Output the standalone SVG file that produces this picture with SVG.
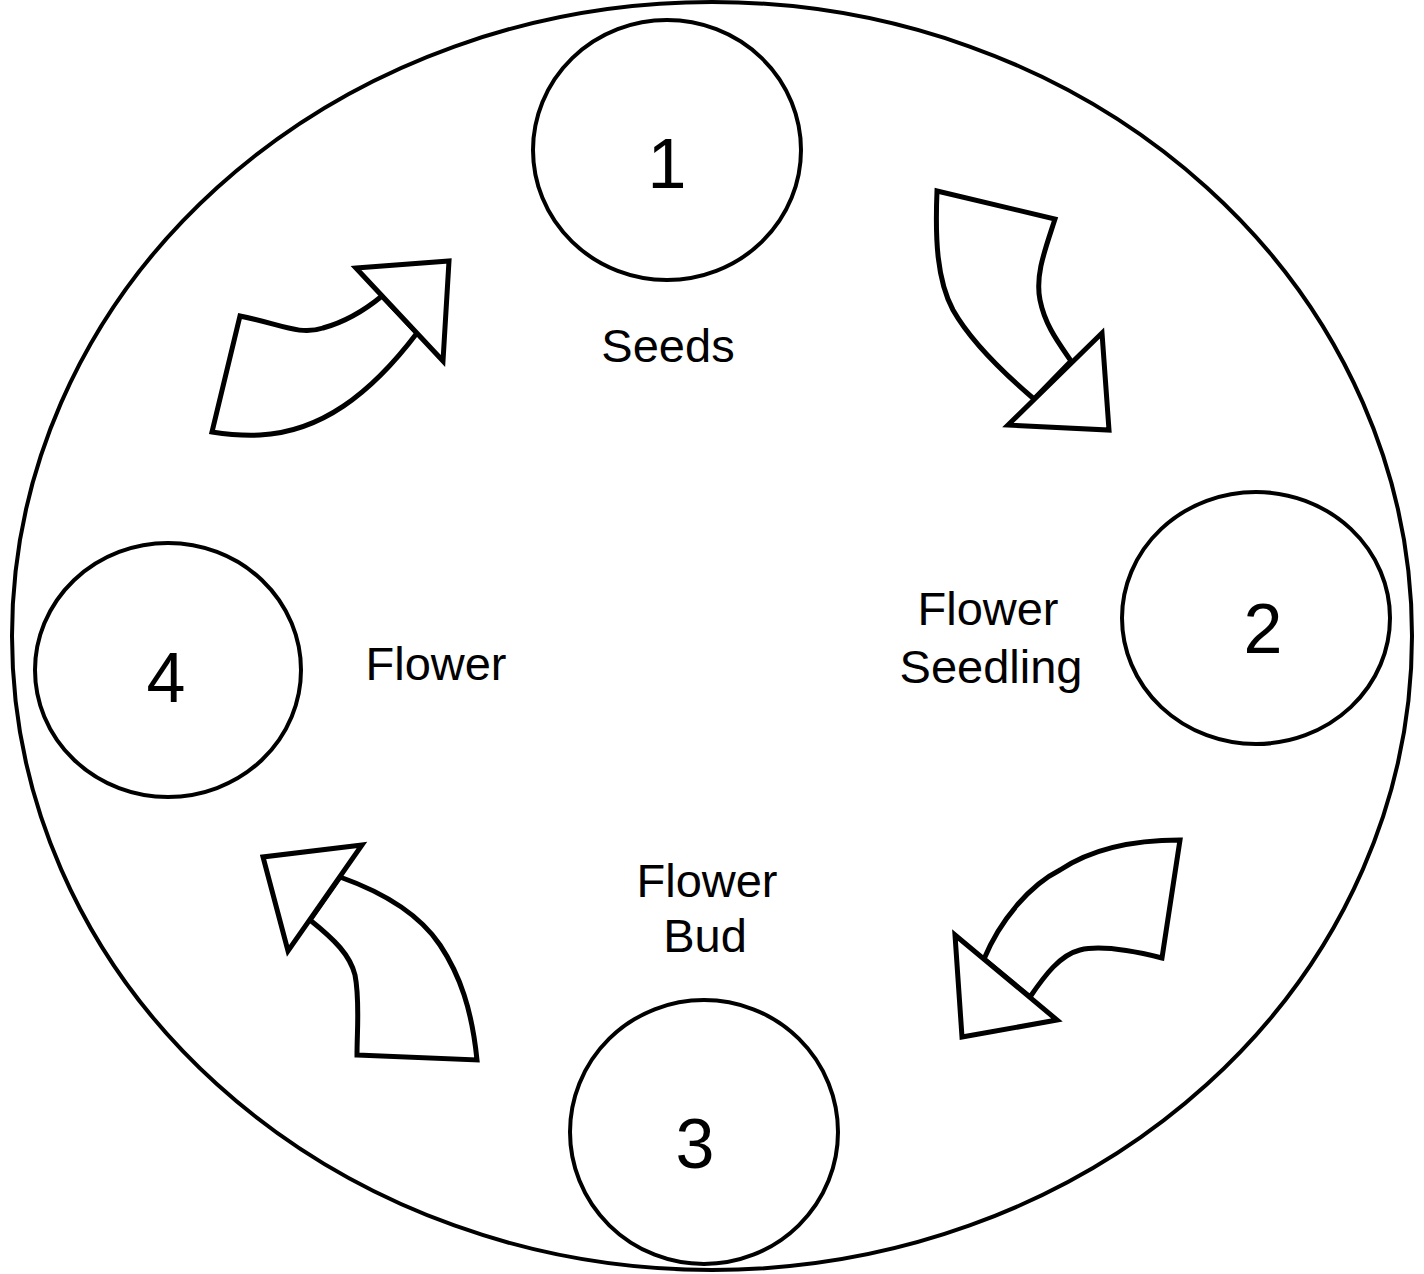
<svg xmlns="http://www.w3.org/2000/svg" width="1424" height="1274" viewBox="0 0 1424 1274">
<style>
.sh{fill:#fff;stroke:#000;stroke-width:4;stroke-linejoin:miter}
.ar{fill:#fff;stroke:#000;stroke-width:5;stroke-linejoin:miter}
.num{font-family:"Comic Sans MS","Liberation Sans",sans-serif;font-size:70px;text-anchor:middle;fill:#000}
.lbl{font-family:"Comic Sans MS","Liberation Sans",sans-serif;font-size:47px;text-anchor:middle;fill:#000}
</style>
<rect width="1424" height="1274" fill="#fff"/>
<ellipse class="sh" cx="712" cy="636" rx="700" ry="634"/>
<g id="node1">
<ellipse class="sh" cx="667" cy="150" rx="134" ry="130"/>
<text class="num" x="667" y="188">1</text>
<text class="lbl" x="668" y="362">Seeds</text>
</g>
<g id="node2">
<ellipse class="sh" cx="1256" cy="618" rx="134" ry="126"/>
<text class="num" x="1263" y="653">2</text>
<text class="lbl" x="988" y="625">Flower</text>
<text class="lbl" x="991" y="683">Seedling</text>
</g>
<g id="node3">
<ellipse class="sh" cx="704" cy="1132" rx="134" ry="132"/>
<text class="num" x="695" y="1168">3</text>
<text class="lbl" x="707" y="897">Flower</text>
<text class="lbl" x="705" y="952">Bud</text>
</g>
<g id="node4">
<ellipse class="sh" cx="168" cy="670" rx="133" ry="127"/>
<text class="num" x="166" y="702">4</text>
<text class="lbl" x="436" y="680">Flower</text>
</g>
<g id="connectors">
<path class="ar" d="M240,316 C280,324 300,336 323,328 C345,322 365,310 382,296 L417,333 C370,395 320,432 260,435 C240,436 225,434 212,432 Z"/>
<path class="ar" d="M356,268 L449,261 L443,361 Z"/>
<path class="ar" d="M937,191 L1055,219 C1045,250 1035,275 1040,300 C1045,325 1058,342 1071,361 L1034,399 C1000,370 970,340 953,310 C937,280 935,240 937,191 Z"/>
<path class="ar" d="M1102,333 L1109,430 L1008,425 Z"/>
<path class="ar" d="M1180,840 L1162,958 C1130,950 1100,945 1080,950 C1060,955 1045,975 1030,997 L984,959 C1000,920 1030,885 1060,870 C1090,850 1130,840 1180,840 Z"/>
<path class="ar" d="M1057,1020 L962,1037 L955,935 Z"/>
<path class="ar" d="M357,1055 L477,1060 C472,1010 460,975 440,945 C420,915 385,893 340,877 L310,920 C335,940 350,955 355,975 C360,1000 357,1030 357,1055 Z"/>
<path class="ar" d="M362,845 L263,857 L288,951 Z"/>
</g>
</svg>
